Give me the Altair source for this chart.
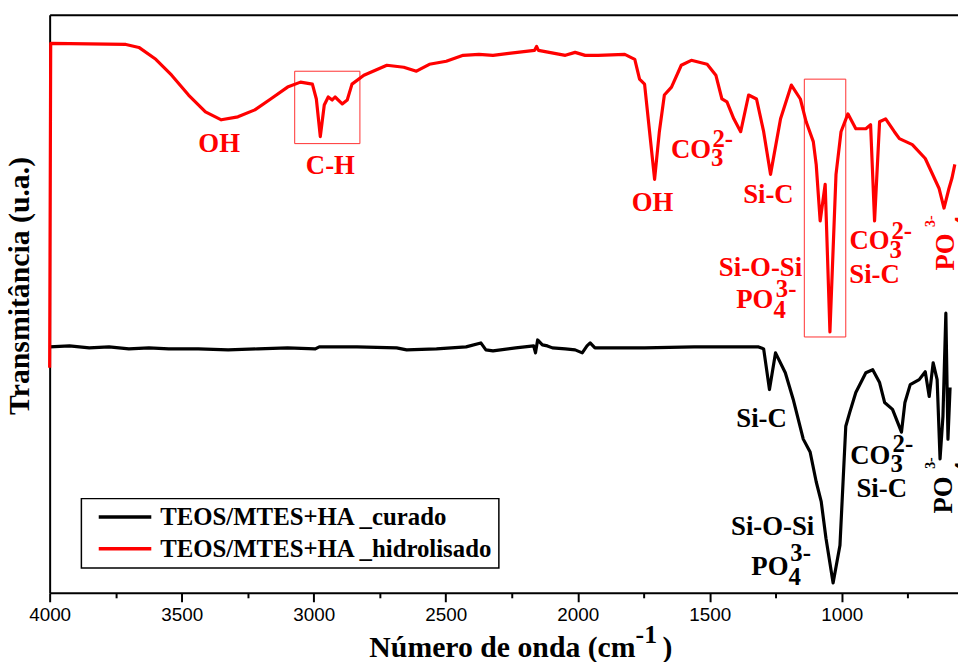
import altair as alt
import pandas as pd

# ---------------- spectra (wavenumber cm-1, transmittance in arbitrary units) -------------
red_wn = [4000, 3996, 3711, 3662, 3598, 3538, 3474, 3410, 3350, 3287, 3223, 3163, 3099, 3050,
          3005, 2990, 2975, 2960, 2945, 2930, 2919, 2892, 2873, 2855, 2810, 2723, 2659, 2611,
          2562, 2498, 2434, 2374, 2321, 2261, 2164, 2156, 2149, 2047, 2010, 1972, 1923, 1822,
          1784, 1766, 1747, 1728, 1709, 1691, 1672, 1645, 1608, 1570, 1510, 1477, 1454, 1435,
          1409, 1383, 1353, 1323, 1296, 1270, 1232, 1191, 1157, 1135, 1108, 1097, 1082, 1063,
          1045, 1022, 1003, 977, 947, 909, 891, 876, 857, 834, 801, 782, 733, 684, 632, 613,
          594, 583, 572]
red_t = [227, 554, 553, 550, 538, 522, 502, 485, 477, 480, 487, 498, 510, 515,
         513, 498, 460, 492, 500, 497, 500, 493, 497, 513, 522, 532, 530, 526,
         533, 536, 542, 543, 542, 544, 547, 551, 547, 542, 545, 542, 542, 543,
         538, 518, 513, 465, 417, 465, 502, 510, 532, 537, 533, 522, 498, 495,
         478, 465, 502, 498, 465, 422, 478, 512, 498, 475, 455, 432, 375, 412,
         263, 422, 465, 483, 468, 468, 472, 375, 475, 478, 465, 458, 452, 438, 408, 388,
         408, 418, 432]

black_wn = [4000, 3925, 3850, 3775, 3700, 3624, 3549, 3437, 3324, 3211, 3099, 2994, 2979,
            2836, 2686, 2648, 2535, 2423, 2367, 2348, 2321, 2235, 2167, 2160, 2152, 2134,
            2115, 2096, 2047, 2010, 1983, 1965, 1953, 1935, 1747, 1559, 1409, 1315, 1296,
            1274, 1251, 1214, 1184, 1146, 1120, 1097, 1078, 1060, 1033, 1007, 985, 970, 947,
            909, 883, 857, 838, 808, 774, 761, 741, 707, 684, 669, 654, 639, 628, 617, 606,
            598, 590]
black_t = [248, 249, 247, 248, 246, 247, 246, 246, 245, 246, 247, 246, 248,
           248, 247, 245, 246, 248, 252, 245, 244, 247, 249, 242, 255, 250,
           249, 247, 246, 245, 242, 249, 252, 247, 247, 248, 248, 248, 246,
           205, 242, 222, 195, 155, 142, 112, 92, 55, 10, 48, 168, 182, 202,
           222, 225, 212, 192, 185, 162, 192, 210, 215, 223, 198, 232, 215, 135, 178, 282,
           155, 207]

series_names = ["TEOS/MTES+HA _curado", "TEOS/MTES+HA _hidrolisado"]
series_colors = ["#000000", "#ff0000"]

# ---------------- band labels ----------------
center_label = ["OH", "C-H", "OH", "Si-C", "Si-O-Si", "Si-C", "Si-C", "Si-O-Si", "Si-C"]
center_wn = [3358, 2937, 1717, 1278, 1308, 876, 1304, 1262, 849]
center_t = [445, 422, 385, 393, 320, 312, 167, 58, 97]
center_col = ["#ff0000"] * 6 + ["#000000"] * 3

ion_label = ["CO", "PO", "CO", "PO", "CO"]
ion_wn = [1495, 1259, 819, 1202, 816]
ion_t = [438, 287, 347, 18, 130]
ion_col = ["#ff0000"] * 3 + ["#000000"] * 2

script_label = ["3", "2-", "4", "3-", "3", "2-", "4", "3-", "3", "2-"]
script_wn = [1495, 1490, 1259, 1250, 819, 812, 1202, 1195, 816, 808]
script_t = [430, 450, 277, 298, 338, 357, 8, 32, 122, 142]
script_col = ["#ff0000"] * 6 + ["#000000"] * 4

rot_label = ["PO", "PO"]
rot_wn = [575, 583]
rot_t = [325, 80]
rot_col = ["#ff0000", "#000000"]

rot_sup_label = ["3-", "3-"]
rot_sup_wn = [647, 647]
rot_sup_t = [369, 125]

rot_sub_label = ["4", "4"]
rot_sub_wn = [508, 508]
rot_sub_t = [368, 120]

# highlighted regions (boxes)
box_wn1 = [3072, 1142]
box_wn2 = [2825, 985]
box_t1 = [526, 518]
box_t2 = [453, 258]

# x axis title pieces
xt_label = ["Número de onda (cm"]
xt_wn = [1781]
xt_t = [-65]
xt_sup_label = ["-1"]
xt_sup_wn = [1781]
xt_sup_t = [-51]
xt_end_label = [")"]
xt_end_wn = [1679]
xt_end_t = [-65]

# ---------------- build tables ----------------
rows = []
for name, wn, tt in [(series_names[0], black_wn, black_t), (series_names[1], red_wn, red_t)]:
    for i, (a, b) in enumerate(zip(wn, tt)):
        rows.append({"serie": name, "wn": a, "T": b, "i": i})
spectra = pd.DataFrame(rows)

def tdf(labels, wn, t, col):
    return pd.DataFrame({"label": labels, "wn": wn, "T": t, "col": col})

xs = alt.Scale(domain=[560, 4000], reverse=True, nice=False, zero=False)
ys = alt.Scale(domain=[0, 583], nice=False, zero=False)

SERIF = "Liberation Serif"

x_axis = alt.Axis(
    values=[4000, 3750, 3500, 3250, 3000, 2750, 2500, 2250, 2000, 1750, 1500, 1250, 1000, 750],
    format="d",
    labelExpr="datum.value % 500 === 0 ? datum.label : ''",
    tickSize={"condition": {"test": "datum.value % 500 === 0", "value": 9}, "value": 5},
    tickWidth=2, tickColor="black", domainWidth=2, domainColor="black",
    labelFont="Liberation Sans", labelFontSize=19, labelColor="black",
    labelPadding=4, labelFlush=False, labelOverlap=False, title=None, grid=False,
)
y_axis = alt.Axis(
    labels=False, ticks=False, domainWidth=2, domainColor="black", grid=False,
    title="Transmitância (u.a.)", titleFont=SERIF, titleFontSize=30, titleFontWeight="bold",
    titleColor="black", titleAngle=270, titleX=-21, titleY=273, titleBaseline="alphabetic",
    titleAlign="center",
)
top_axis = alt.Axis(orient="top", labels=False, ticks=False, domainWidth=2,
                    domainColor="black", title=None, grid=False)

legend = alt.Legend(
    orient="none", legendX=32, legendY=488, title=None,
    symbolType="M-2.65,0H2.65", symbolSize=400, symbolStrokeWidth=3.5, symbolOffset=25.5,
    labelOffset=23, labelFont=SERIF, labelFontWeight="bold", labelFontSize=25,
    labelColor="black", labelLimit=0, padding=6, rowPadding=6,
    strokeColor="black", fillColor="white",
)

lines = alt.Chart(spectra).mark_line(strokeWidth=3.2, strokeJoin="round").encode(
    x=alt.X("wn:Q", scale=xs, axis=x_axis),
    y=alt.Y("T:Q", scale=ys, axis=y_axis),
    color=alt.Color("serie:N", scale=alt.Scale(domain=series_names, range=series_colors),
                    legend=legend),
    order="i:Q",
)

boxes = alt.Chart(pd.DataFrame({"w1": box_wn1, "w2": box_wn2, "t1": box_t1, "t2": box_t2})).mark_rect(
    fill="transparent", stroke="#ff3030", strokeWidth=1
).encode(
    x=alt.X("w1:Q", scale=xs, axis=top_axis),
    x2="w2:Q",
    y=alt.Y("t1:Q", scale=ys, axis=None),
    y2="t2:Q",
)

def text_layer(df, size, align, angle=0):
    return alt.Chart(df).mark_text(
        font=SERIF, fontWeight="bold", fontSize=size, align=align,
        baseline="alphabetic", angle=angle
    ).encode(
        x=alt.X("wn:Q", scale=xs, axis=None),
        y=alt.Y("T:Q", scale=ys, axis=None),
        text="label:N",
        color=alt.Color("col:N", scale=None),
    )

t_center = text_layer(tdf(center_label, center_wn, center_t, center_col), 27, "center")
t_ion = text_layer(tdf(ion_label, ion_wn, ion_t, ion_col), 27, "right")
t_script = text_layer(tdf(script_label, script_wn, script_t, script_col), 25, "left")
t_rot = text_layer(tdf(rot_label, rot_wn, rot_t, rot_col), 27, "left", 270)
t_rot_sup = text_layer(tdf(rot_sup_label, rot_sup_wn, rot_sup_t, rot_col), 14, "left", 270)
t_rot_sub = text_layer(tdf(rot_sub_label, rot_sub_wn, rot_sub_t, rot_col), 25, "left", 270)
t_xt = text_layer(tdf(xt_label, xt_wn, xt_t, ["#000000"]), 30, "right")
t_xt_sup = text_layer(tdf(xt_sup_label, xt_sup_wn, xt_sup_t, ["#000000"]), 26, "left")
t_xt_end = text_layer(tdf(xt_end_label, xt_end_wn, xt_end_t, ["#000000"]), 30, "left")

chart = alt.layer(
    boxes, lines, t_center, t_ion, t_script, t_rot, t_rot_sup, t_rot_sub, t_xt, t_xt_sup, t_xt_end
).resolve_axis(x="independent", y="independent").resolve_scale(color="independent").properties(
    width=916, height=583,
    autosize=alt.AutoSizeParams(type="none"),
    padding={"left": 42, "top": 4, "right": 0, "bottom": 67},
).configure_view(stroke=None).configure_legend(strokeWidth=1.5)

chart.save("out.html", embed_options={"renderer": "svg", "actions": False})
